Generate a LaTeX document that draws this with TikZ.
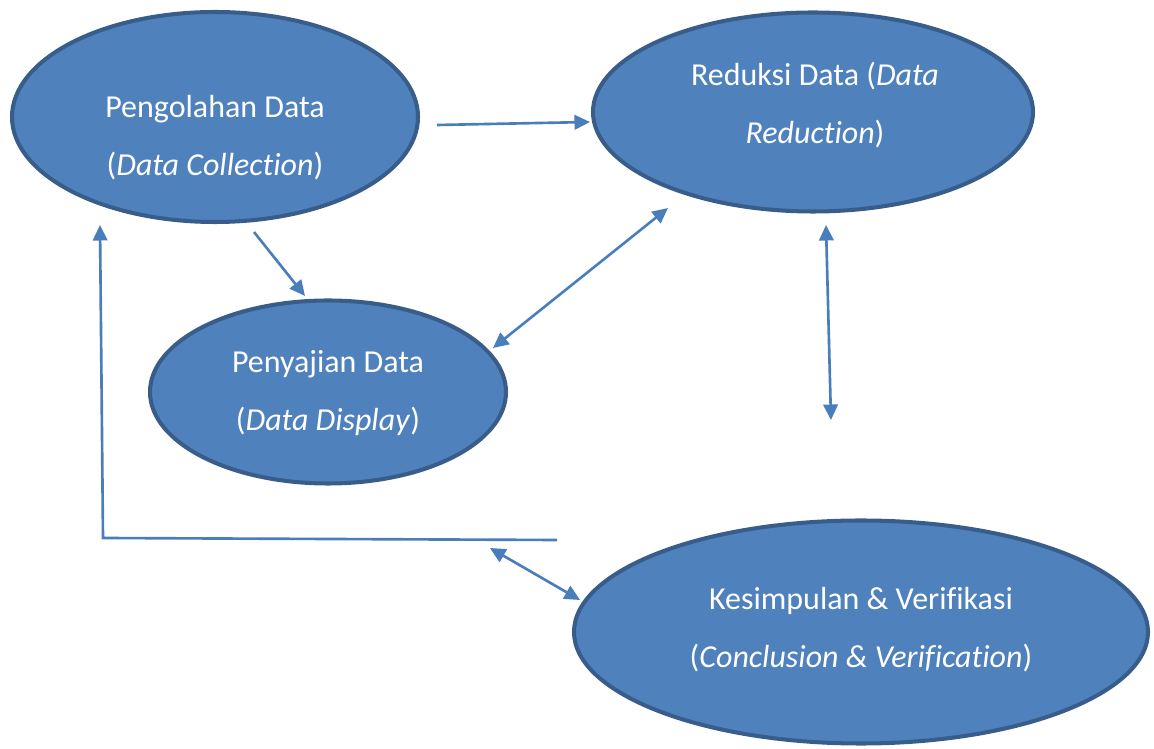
\documentclass[tikz,border=0pt]{standalone}
\usepackage{fontspec}
\setmainfont[Ligatures=NoCommon]{Carlito}
\usetikzlibrary{shapes.geometric,arrows.meta}

\definecolor{blobfill}{HTML}{4F81BD}
\definecolor{blobline}{HTML}{385D8A}
\definecolor{arrline}{HTML}{4A7EBB}

\tikzset{
    blob/.style={ellipse,draw=blobline,fill=blobfill,line width=2.3pt,inner sep=0pt},
    blobtext/.style={text=white,align=center,font=\fontsize{18.2}{33}\selectfont},
    tip/.style={Triangle[length=0.31cm,width=0.29cm]},
    flow/.style={draw=arrline,line width=1.5pt,-{Triangle[length=0.31cm,width=0.29cm]}},
    flowboth/.style={flow,{Triangle[length=0.31cm,width=0.29cm]}-{Triangle[length=0.31cm,width=0.29cm]}}
}

\begin{document}
\begin{tikzpicture}[x=0.02cm,y=-0.02cm]
            \useasboundingbox (0,0) rectangle (1154,749);

            % ellipses
            \node [blob,minimum width=406*0.02cm,minimum height=210*0.02cm] (pd) at (215,117) {};
            \node [blob,minimum width=440*0.02cm,minimum height=199*0.02cm] (rd) at (813,112) {};
            \node [blob,minimum width=356*0.02cm,minimum height=183*0.02cm] (sd) at (328,392) {};
            \node [blob,minimum width=574*0.02cm,minimum height=223*0.02cm] (kv) at (861,632) {};

            % texts
            \node [blobtext] (pd-t) at (215,138) {Pengolahan Data\\(\textit{Data Collection})};
            \node [blobtext] (rd-t) at (815,105) {Reduksi Data (\textit{Data}\\\textit{Reduction})};
            \node [blobtext] (sd-t) at (328,393) {Penyajian Data\\(\textit{Data Display})};
            \node [blobtext] (kv-t) at (861,630) {Kesimpulan \& Verifikasi\\(\textit{Conclusion \& Verification})};

            % arrow ends
            \coordinate (pd-r) at (437,125);
            \coordinate (rd-l) at (590,122);
            \coordinate (pd-b) at (254,232);
            \coordinate (sd-t1) at (305,296);
            \coordinate (sd-r) at (493,348);
            \coordinate (rd-bl) at (668,208);
            \coordinate (rd-b) at (826,225);
            \coordinate (rd-dn) at (831,420);
            \coordinate (ret-r) at (557,540);
            \coordinate (ret-c) at (103,538);
            \coordinate (pd-bl) at (100,225);
            \coordinate (kv-a) at (490,548);
            \coordinate (kv-b) at (580,600);

            \draw [flow] (pd-r) -- (rd-l);
            \draw [flow] (pd-b) -- (sd-t1);
            \draw [flowboth] (sd-r) -- (rd-bl);
            \draw [flowboth] (rd-b) -- (rd-dn);
            \draw [flow] (ret-r) -- (ret-c) -- (pd-bl);
            \draw [flowboth] (kv-a) -- (kv-b);
        \end{tikzpicture}
\end{document}
